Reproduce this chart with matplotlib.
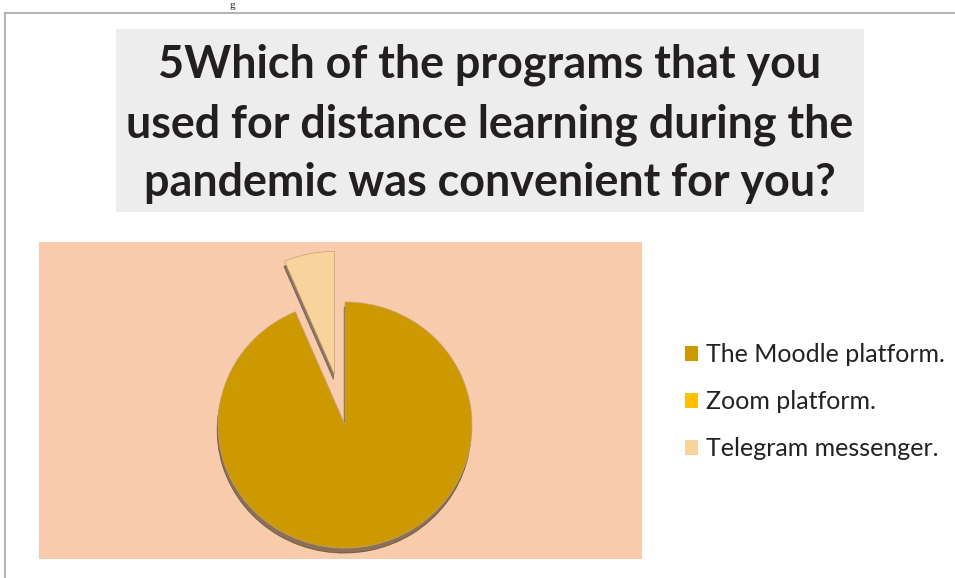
import matplotlib
matplotlib.use("Agg")
import matplotlib.pyplot as plt
from matplotlib.patches import Rectangle
from matplotlib.lines import Line2D

# survey answers, share of respondents (%)
labels = ["The Moodle platform.", "Zoom platform.", "Telegram messenger."]
values = [93.6, 0.0, 6.4]
colors = ["#CC9900", "#FFC000", "#F8D49C"]
explode = [0, 0, 0.42]

title = ("5Which of the programs that you\n"
         "used for distance learning during the\n"
         "pandemic was convenient for you?")

W, H = 955, 578
fig = plt.figure(figsize=(W / 100, H / 100), dpi=100)
fig.patch.set_facecolor("white")

def fx(px):
    return px / W

def fy(py):
    return 1 - py / H

# frame of the chart area
fig.add_artist(Line2D([fx(5), fx(5)], [fy(13), 0], color="#A6A6A6", lw=1.2))
fig.add_artist(Line2D([fx(5), 1], [fy(13), fy(13)], color="#A6A6A6", lw=1.2))
# text left over from the page above
fig.text(fx(232), fy(1), "g", fontsize=8, family="Liberation Serif",
         ha="center", va="top", color="#222222")

# title box
fig.add_artist(Rectangle((fx(116), fy(212)), fx(864) - fx(116), fy(29) - fy(212),
                         facecolor="#EDEDED", edgecolor="none"))
fig.text(fx(490), fy(124), title, ha="center", va="center", fontsize=32.3,
         fontweight="bold", family="Lato", color="#231F20", linespacing=1.5)

# plot area
left, right, top, bottom = 39, 642, 242, 559
ax = fig.add_axes([fx(left), fy(bottom), fx(right) - fx(left), fy(top) - fy(bottom)])
ax.set_facecolor("#F8CBAD")

cx, cy, rx, ry = 345, 425, 127, 123
wedges, _ = ax.pie(values, colors=colors, explode=explode, startangle=90,
                   counterclock=False, shadow={"ox": -0.005, "oy": -0.03, "shade": 0.85},
                   wedgeprops={"edgecolor": "#C8A070", "linewidth": 0.5})
ax.set_frame_on(True)
for s in ax.spines.values():
    s.set_visible(False)
ax.set_xlim(-(cx - left) / rx, (right - cx) / rx)
ax.set_ylim(-(bottom - cy) / ry, (cy - top) / ry)
ax.set_aspect("auto")
ax.set_xticks([])
ax.set_yticks([])

handles = [Rectangle((0, 0), 1, 1, facecolor=c, edgecolor="none") for c in colors]
fig.legend(handles, labels, loc="upper left", bbox_to_anchor=(fx(662), fy(321)),
           frameon=False, prop={"family": "Lato", "size": 18},
           handlelength=0.55, handleheight=0.55, handletextpad=0.32,
           labelspacing=0.95, labelcolor="#222222")

fig.savefig("out.png", dpi=100, facecolor="white")
